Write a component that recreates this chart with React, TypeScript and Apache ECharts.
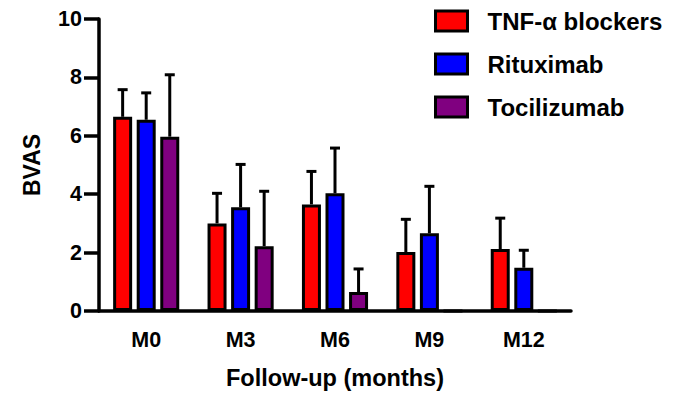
import React, { useEffect, useRef } from "react";
import * as echarts from "echarts";

const categories = ["M0", "M3", "M6", "M9", "M12"];
const seriesNames = ["TNF-α blockers", "Rituximab", "Tocilizumab"];
const tnfMean = [6.65, 3.0, 3.65, 2.02, 2.12];
const tnfUpper = [7.58, 4.03, 4.78, 3.14, 3.18];
const rituxMean = [6.55, 3.55, 4.03, 2.66, 1.48];
const rituxUpper = [7.47, 5.02, 5.58, 4.27, 2.08];
const tociMean = [5.97, 2.22, 0.65, 0, 0];
const tociUpper: (number | null)[] = [8.09, 4.1, 1.44, null, null];
const colors = ["#ff0000", "#0000ff", "#800080"];

const FONT = "'Liberation Sans', Arial, Helvetica, sans-serif";
const BAR_W = 19;
const BAR_GAP = 0.24;

export default function App() {
  const ref = useRef<HTMLDivElement>(null);
  useEffect(() => {
    if (!ref.current) return;
    document.body.style.margin = "0";
    const chart = echarts.init(ref.current, undefined, { renderer: "svg" });
    const means = [tnfMean, rituxMean, tociMean];
    const uppers = [tnfUpper, rituxUpper, tociUpper];
    const step = BAR_W * (1 + BAR_GAP);

    const barSeries = means.map((m, i) => ({
      name: seriesNames[i],
      type: "bar",
      data: m,
      barWidth: BAR_W,
      barGap: BAR_GAP * 100 + "%",
      itemStyle: { color: colors[i], borderColor: "#000", borderWidth: 3 },
      z: 2,
    }));

    const errSeries = means.map((m, i) => ({
      type: "custom",
      data: m
        .map((v, k) => [k, v, uppers[i][k]])
        .filter((d) => d[2] !== null),
      z: 3,
      renderItem: (params: any, api: any) => {
        const idx = api.value(0);
        const v = api.value(1);
        const up = api.value(2);
        const p0 = api.coord([idx, v]);
        const p1 = api.coord([idx, up]);
        const x = p0[0] + (i - 1) * step;
        return {
          type: "group",
          children: [
            {
              type: "line",
              shape: { x1: x, y1: p0[1], x2: x, y2: p1[1] },
              style: { stroke: "#000", lineWidth: 3 },
            },
            {
              type: "line",
              shape: { x1: x - 5, y1: p1[1], x2: x + 5, y2: p1[1] },
              style: { stroke: "#000", lineWidth: 3 },
            },
          ],
        };
      },
    }));

    chart.setOption({
      animation: false,
      grid: { left: 99, right: 106, top: 19, bottom: 82 },
      legend: {
        orient: "vertical",
        left: 434,
        top: 9,
        padding: 0,
        itemWidth: 32,
        itemHeight: 20,
        itemGap: 19,
        data: seriesNames,
        icon: "rect",
        itemStyle: { borderColor: "#000", borderWidth: 3 },
        textStyle: {
          fontFamily: FONT,
          fontWeight: "bold",
          fontSize: 24,
          lineHeight: 20,
          color: "#000",
          padding: [0, 0, 0, 15],
        },
      },
      xAxis: {
        type: "category",
        data: categories,
        name: "Follow-up (months)",
        nameLocation: "middle",
        nameGap: 55,
        nameTextStyle: { fontFamily: FONT, fontWeight: "bold", fontSize: 23.5, color: "#000" },
        axisLine: { lineStyle: { color: "#000", width: 3.5 } },
        axisTick: { alignWithLabel: true, length: 15, lineStyle: { color: "#000", width: 3.5 } },
        axisLabel: { fontFamily: FONT, fontWeight: "bold", fontSize: 21.5, color: "#000", margin: 18 },
      },
      yAxis: {
        type: "value",
        min: 0,
        max: 10,
        interval: 2,
        name: "BVAS",
        nameLocation: "middle",
        nameGap: 56,
        nameTextStyle: { fontFamily: FONT, fontWeight: "bold", fontSize: 23, color: "#000" },
        axisLine: { show: true, lineStyle: { color: "#000", width: 3.5 } },
        axisTick: { show: true, length: 15, lineStyle: { color: "#000", width: 3.5 } },
        axisLabel: { fontFamily: FONT, fontWeight: "bold", fontSize: 21.5, color: "#000", margin: 17 },
        splitLine: { show: false },
      },
      series: [...barSeries, ...errSeries],
    });
    return () => chart.dispose();
  }, []);
  return <div ref={ref} style={{ width: 677, height: 395 }} />;
}
